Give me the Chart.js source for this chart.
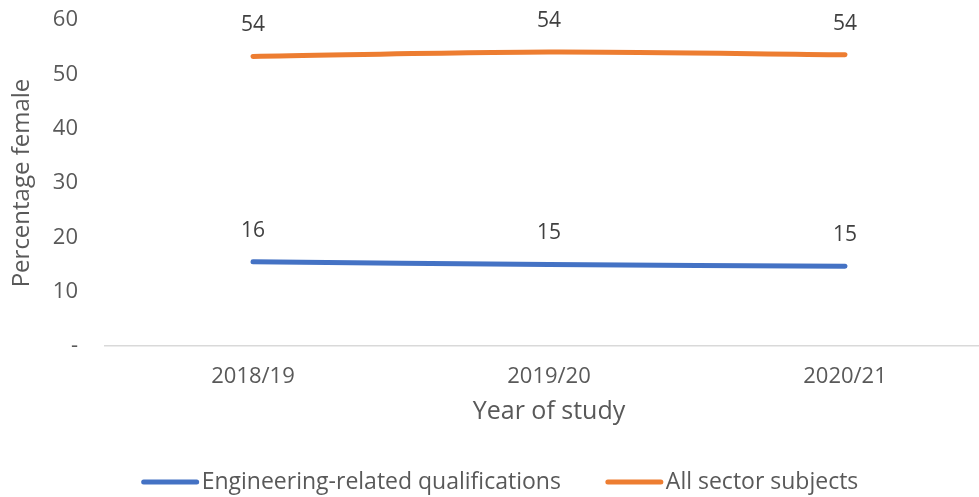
<!DOCTYPE html>
<html><head><meta charset="utf-8">
<script src="https://cdn.jsdelivr.net/npm/chart.js@4"></script>
<style>html,body{margin:0;padding:0;overflow:hidden;background:#fff;width:979px;height:497px}canvas{display:block}</style>
</head><body>
<canvas id="c" width="1000" height="497"></canvas>
<script>
const categories = ["2018/19", "2019/20", "2020/21"];
const engineering = [15.5, 15.0, 14.7];
const allSubjects = [53.3, 54.1, 53.6];
const engineeringLabels = ["16", "15", "15"];
const allSubjectsLabels = ["54", "54", "54"];
const yTicks = [0, 10, 20, 30, 40, 50, 60];

const FONT = "'Open Sans'";
const TEXT = '#595959';

const labelPlugin = {
  id: 'valueLabels',
  afterDatasetsDraw(chart) {
    const ctx = chart.ctx;
    ctx.save();
    ctx.fillStyle = '#404040';
    ctx.font = '21px ' + FONT;
    ctx.textAlign = 'center';
    ctx.textBaseline = 'middle';
    chart.data.datasets.forEach((ds, i) => {
      const meta = chart.getDatasetMeta(i);
      meta.data.forEach((pt, j) => {
        ctx.fillText(ds.valueLabels[j], pt.x, pt.y - 31);
      });
    });
    ctx.restore();
  }
};

const legendPlugin = {
  id: 'lineLegend',
  afterDraw(chart) {
    const ctx = chart.ctx;
    ctx.save();
    ctx.font = '23px ' + FONT;
    ctx.textBaseline = 'middle';
    const lineW = 57, gap = 3, spacing = 45, y = 482;
    const items = chart.data.datasets.map(ds => ({text: ds.label, color: ds.borderColor, w: ctx.measureText(ds.label).width}));
    const total = items.reduce((s, it) => s + lineW + gap + it.w, 0) + spacing * (items.length - 1);
    let x = 500 - total / 2;
    items.forEach(it => {
      ctx.strokeStyle = it.color;
      ctx.lineWidth = 5;
      ctx.lineCap = 'round';
      ctx.beginPath();
      ctx.moveTo(x + 2, y);
      ctx.lineTo(x + lineW - 2, y);
      ctx.stroke();
      ctx.fillStyle = TEXT;
      ctx.fillText(it.text, x + lineW + gap, y);
      x += lineW + gap + it.w + spacing;
    });
    ctx.restore();
  }
};

new Chart(document.getElementById('c'), {
  type: 'line',
  data: {
    labels: categories,
    datasets: [
      {label: 'Engineering-related qualifications', data: engineering, valueLabels: engineeringLabels,
       borderColor: '#4472C4', backgroundColor: '#4472C4', borderWidth: 5, pointRadius: 0, borderCapStyle: 'round', tension: 0.3},
      {label: 'All sector subjects', data: allSubjects, valueLabels: allSubjectsLabels,
       borderColor: '#ED7D31', backgroundColor: '#ED7D31', borderWidth: 5, pointRadius: 0, borderCapStyle: 'round', tension: 0.3}
    ]
  },
  options: {
    responsive: false,
    animation: false,
    layout: {padding: {top: 20, left: 0, right: 7, bottom: 0}},
    plugins: {
      legend: {display: false},
      tooltip: {enabled: false}
    },
    scales: {
      x: {
        offset: true,
        grid: {display: false, drawTicks: false},
        border: {display: true, color: '#D9D9D9', width: 1.5},
        ticks: {font: {family: FONT, size: 22}, color: TEXT, padding: 18, maxRotation: 0},
        title: {display: true, text: 'Year of study', font: {family: FONT, size: 25}, color: TEXT, padding: {top: 0, bottom: 70}},
        afterFit(axis) { axis.height = 151; axis.paddingLeft = 0; axis.paddingRight = 0; }
      },
      y: {
        min: 0, max: 60,
        afterBuildTicks(axis) { axis.ticks = yTicks.map(v => ({value: v})); },
        grid: {display: false, drawTicks: false},
        border: {display: false},
        ticks: {font: {family: FONT, size: 22}, color: TEXT, padding: 27,
          callback: (v) => v === 0 ? '-' : String(v)},
        title: {display: true, text: 'Percentage female', font: {family: FONT, size: 24}, color: TEXT, padding: {top: 8, bottom: 0}},
        afterFit(axis) { axis.width = 105; axis.paddingTop = 0; axis.paddingBottom = 0; }
      }
    }
  },
  plugins: [labelPlugin, legendPlugin]
});
</script>
</body></html>
